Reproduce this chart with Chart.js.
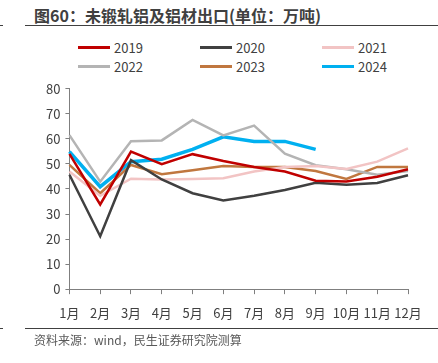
<!DOCTYPE html>
<html>
<head>
<meta charset="utf-8">
<script src="https://cdn.jsdelivr.net/npm/chart.js@4"></script>
<style>
  body { margin: 0; width: 438px; height: 363px; background: #fff; position: relative; overflow: hidden;
         font-family: "Noto Sans CJK SC", "Noto Sans", sans-serif; }
  #title { position: absolute; left: 34px; top: 3px; font-size: 16px; font-weight: bold; color: #404040; }
  .rule { position: absolute; left: 25px; right: 0; height: 1px; background: #404040; }
  .mark { position: absolute; left: 0; width: 3px; height: 1px; background: #404040; }
  #legend { position: absolute; left: 78px; top: 38px; display: grid; grid-template-columns: 122px 122px 90px; row-gap: 0px; }
  .item { display: flex; align-items: center; height: 19px; font-size: 13px; color: #404040; }
  .swatch { width: 32px; height: 3px; margin-right: 4px; }
  #foot { position: absolute; left: 34px; top: 331px; font-size: 12px; color: #595959; }
  #wrap { position: absolute; left: 0; top: 76px; width: 438px; height: 256px; }
</style>
</head>
<body>
<div id="title">图60：未锻轧铝及铝材出口(单位：万吨)</div>
<div class="rule" style="top:25px"></div>
<div class="mark" style="top:25px"></div>
<div id="legend"></div>
<div id="wrap"><canvas id="chart"></canvas></div>
<div class="rule" style="top:328px"></div>
<div class="mark" style="top:328px"></div>
<div id="foot">资料来源：wind，民生证券研究院测算</div>
<script>
var months = ['1月', '2月', '3月', '4月', '5月', '6月', '7月', '8月', '9月', '10月', '11月', '12月'];
var y2019 = [54, 33.8, 54.9, 49.9, 53.9, 51.2, 48.8, 47, 43.3, 43, 44.9, 47.9];
var y2020 = [45.7, 21.1, 51.5, 43.8, 38.3, 35.4, 37.3, 39.6, 42.5, 41.7, 42.4, 45.5];
var y2021 = [47, 37.3, 44.1, 43.8, 44, 44.3, 47, 48.8, 49.2, 48, 50.9, 56.2];
var y2022 = [61.5, 42.9, 59.1, 59.4, 67.6, 61.4, 65.3, 54.1, 49.5, 47.9, 45.7, 47.2];
var y2023 = [49.6, 38.3, 49.6, 45.9, 47.5, 49.2, 48.8, 48.8, 47.2, 44, 48.8, 48.8];
var y2024 = [54.9, 40.9, 50.9, 51.9, 55.8, 60.8, 59, 59, 55.8];

function line(label, data, color, width) {
  return { label: label, data: data, borderColor: color, backgroundColor: color,
           borderWidth: width, pointRadius: 0, tension: 0, fill: false };
}

var datasets = [
  line('2019', y2019, '#C00000', 2.5),
  line('2020', y2020, '#404040', 2.5),
  line('2021', y2021, '#F2C4C4', 2.5),
  line('2022', y2022, '#B4B4B4', 2.5),
  line('2023', y2023, '#C0773F', 2.5),
  line('2024', y2024, '#00B0F0', 3.5)
];

// legend in html, 3 columns
var lg = document.getElementById('legend');
datasets.forEach(function (d) {
  var it = document.createElement('div');
  it.className = 'item';
  it.innerHTML = '<span class="swatch" style="background:' + d.borderColor + '"></span>' + d.label;
  lg.appendChild(it);
});

var ctx = document.getElementById('chart').getContext('2d');
var myChart = new Chart(ctx, {
  type: 'line',
  data: { labels: months, datasets: datasets },
  options: {
    responsive: true,
    maintainAspectRatio: false,
    animation: false,
    layout: { padding: { left: 41, right: 30, top: 1, bottom: 0 } },
    plugins: { legend: { display: false }, tooltip: { enabled: false } },
    scales: {
      x: {
        offset: false,
        grid: { display: true, drawOnChartArea: false, tickLength: 5, color: '#7F7F7F' },
        border: { color: '#7F7F7F', width: 1 },
        // line height pushes the month labels further below the axis
        ticks: { color: '#404040', font: { size: 13, family: 'Noto Sans CJK SC', lineHeight: 2.45 }, maxRotation: 0, autoSkip: false, padding: 3 }
      },
      y: {
        min: 0, max: 80,
        grid: { display: true, drawOnChartArea: false, tickLength: 4, color: '#7F7F7F' },
        border: { color: '#7F7F7F', width: 1 },
        ticks: { stepSize: 10, color: '#404040', font: { size: 13, family: 'Noto Sans CJK SC' }, padding: 5 }
      }
    }
  }
});
</script>
</body>
</html>
